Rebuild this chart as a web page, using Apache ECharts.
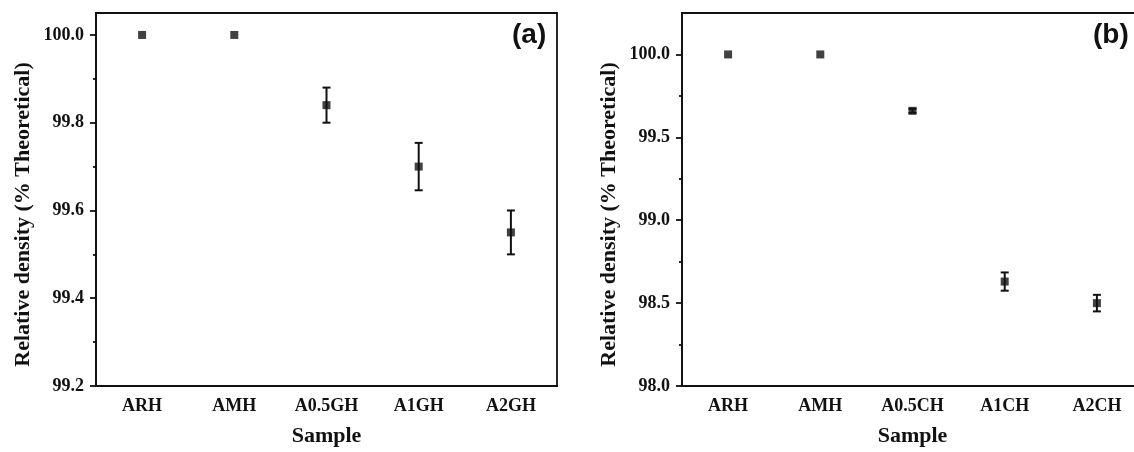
<!DOCTYPE html>
<html>
<head>
<meta charset="utf-8">
<script src="https://cdn.jsdelivr.net/npm/echarts@6/dist/echarts.min.js"></script>
<style>
html,body{margin:0;padding:0;background:#fff;overflow:hidden;width:1134px;height:452px;}
#chart{width:1150px;height:452px;}
</style>
</head>
<body>
<div id="chart"></div>
<script>
// ---- data ----
const categoriesA = ['ARH', 'AMH', 'A0.5GH', 'A1GH', 'A2GH'];
const densityA = [100.0, 100.0, 99.84, 99.70, 99.55];
const errorA = [0, 0, 0.04, 0.054, 0.05];

const categoriesB = ['ARH', 'AMH', 'A0.5CH', 'A1CH', 'A2CH'];
const densityB = [100.0, 100.0, 99.66, 98.63, 98.50];
const errorB = [0, 0, 0.012, 0.055, 0.05];

const yTicksA = [99.2, 99.4, 99.6, 99.8, 100.0];
const yMinorA = [99.3, 99.5, 99.7, 99.9];
const yTicksB = [98.0, 98.5, 99.0, 99.5, 100.0];
const yMinorB = [98.25, 98.75, 99.25, 99.75];

const panelLabels = ['(a)', '(b)'];
const yName = 'Relative density (% Theoretical)';
const xName = 'Sample';

// ---- styles ----
const serif = 'Liberation Serif';
const ink = '#111';
const lineW = 1.8;

function xAxis(grid, cats) {
  return {
    type: 'category', gridIndex: grid, data: cats, boundaryGap: true,
    name: xName, nameLocation: 'middle', nameGap: 39,
    nameTextStyle: {fontFamily: serif, fontWeight: 'bold', fontSize: 22, color: ink},
    axisLine: {lineStyle: {color: ink, width: lineW}},
    axisTick: {alignWithLabel: true, length: 5, lineStyle: {color: ink, width: lineW}},
    axisLabel: {fontFamily: serif, fontWeight: 'bold', fontSize: 18, color: ink, margin: 11},
    splitLine: {show: false}
  };
}
function yAxisMain(grid, min, max, interval, ticks) {
  return {
    type: 'value', gridIndex: grid, min: min, max: max, interval: interval,
    name: yName, nameLocation: 'middle', nameGap: 62,
    nameTextStyle: {fontFamily: serif, fontWeight: 'bold', fontSize: 22, color: ink, padding: [0, 30, 0, 0]},
    axisLine: {show: true, lineStyle: {color: ink, width: lineW}},
    axisTick: {show: true, length: 6, customValues: ticks, lineStyle: {color: ink, width: lineW}},
    axisLabel: {fontFamily: serif, fontWeight: 'bold', fontSize: 18, color: ink, margin: 12,
      customValues: ticks, formatter: v => Number(v).toFixed(1)},
    splitLine: {show: false}
  };
}
function yAxisMinor(grid, min, max, interval, minors) {
  return {
    type: 'value', gridIndex: grid, min: min, max: max, interval: interval, position: 'left',
    axisLine: {show: false},
    axisTick: {show: true, length: 3, customValues: minors, lineStyle: {color: ink, width: lineW}},
    axisLabel: {show: false},
    splitLine: {show: false}
  };
}

function errorRender(errs) {
  return function (params, api) {
    const i = api.value(0);
    const v = api.value(1);
    const e = errs[i];
    if (!e) return null;
    const top = api.coord([i, v + e]);
    const bot = api.coord([i, v - e]);
    const hw = 4;
    const st = {stroke: ink, lineWidth: 2};
    return {
      type: 'group',
      children: [
        {type: 'line', shape: {x1: top[0], y1: top[1], x2: bot[0], y2: bot[1]}, style: st},
        {type: 'line', shape: {x1: top[0] - hw, y1: top[1], x2: top[0] + hw, y2: top[1]}, style: st},
        {type: 'line', shape: {x1: bot[0] - hw, y1: bot[1], x2: bot[0] + hw, y2: bot[1]}, style: st}
      ]
    };
  };
}

const chart = echarts.init(document.getElementById('chart'));
chart.setOption({
  animation: false,
  backgroundColor: '#fff',
  grid: [
    {left: 96, top: 13, width: 461, height: 375, show: true, borderColor: ink, borderWidth: lineW, backgroundColor: 'transparent'},
    {left: 682, top: 13, width: 461, height: 375, show: true, borderColor: ink, borderWidth: lineW, backgroundColor: 'transparent'}
  ],
  xAxis: [xAxis(0, categoriesA), xAxis(1, categoriesB)],
  yAxis: [
    yAxisMain(0, 99.2, 100.05, 0.2, yTicksA),
    yAxisMain(1, 98.0, 100.25, 0.5, yTicksB),
    yAxisMinor(0, 99.2, 100.05, 0.2, yMinorA),
    yAxisMinor(1, 98.0, 100.25, 0.5, yMinorB)
  ],
  graphic: [
    {type: 'text', left: 512, top: 21, style: {text: panelLabels[0], font: 'bold 28px "Liberation Sans"', fill: ink}},
    {type: 'text', left: 1093, top: 21, style: {text: panelLabels[1], font: 'bold 28px "Liberation Sans"', fill: ink}}
  ],
  series: [
    {type: 'custom', xAxisIndex: 0, yAxisIndex: 0, renderItem: errorRender(errorA),
      data: densityA.map((v, i) => [i, v]), z: 2},
    {type: 'scatter', xAxisIndex: 0, yAxisIndex: 0, symbol: 'rect', symbolSize: 8,
      itemStyle: {color: ink}, data: densityA.map((v, i) => [i, v]), z: 3},
    {type: 'custom', xAxisIndex: 1, yAxisIndex: 1, renderItem: errorRender(errorB),
      data: densityB.map((v, i) => [i, v]), z: 2},
    {type: 'scatter', xAxisIndex: 1, yAxisIndex: 1, symbol: 'rect', symbolSize: 8,
      itemStyle: {color: ink}, data: densityB.map((v, i) => [i, v]), z: 3}
  ]
});
</script>
</body>
</html>
